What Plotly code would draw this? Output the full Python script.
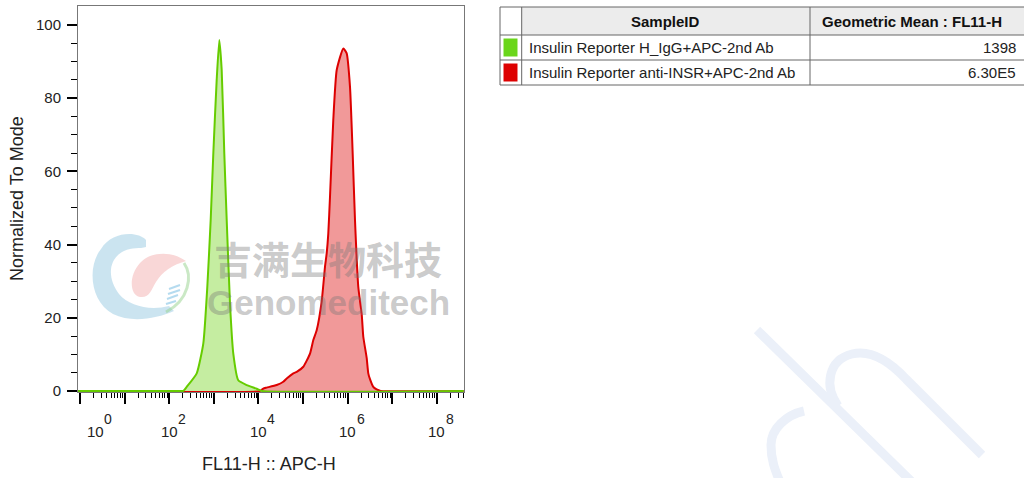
import plotly.graph_objects as go

# ---------------- data ----------------
green_x = [0.9, 180, 207, 247, 414, 582, 715, 851, 975, 1161, 1328, 1503, 1719,
           1946, 2307, 2737, 3541, 5466, 9162, 12000, 4.0e8]
green_y = [0, 0, 0, 1.1, 4.8, 13, 28.4, 46.7, 64.9, 85, 95.9, 87.7, 64.9,
           46.7, 23.9, 10.2, 2.9, 1.6, 0.6, 0, 0]

red_x = [0.9, 11000, 12880, 15350, 25700, 36140, 43130, 60670, 72270, 101600,
         143600, 170300, 202800, 262500, 311300, 339600, 369100, 402800, 477600,
         570000, 801500, 950800, 1132000, 1300000, 1465000, 1738000, 2071000,
         2249000, 2679000, 2911000, 3178000, 3767000, 4487000, 5500000, 4.0e8]
red_y = [0, 0, 0.65, 0.9, 1.6, 2.5, 3.4, 4.8, 5.2, 6.6,
         10.2, 13.9, 16.6, 24.5, 33.9, 37.6, 43, 53, 74,
         87.7, 93.6, 92.3, 83.1, 64.9, 46.7, 28.4, 21,
         14.8, 9, 4.8, 3.2, 1.1, 0.4, 0, 0]

sample_ids = ["Insulin Reporter H_IgG+APC-2nd Ab", "Insulin Reporter anti-INSR+APC-2nd Ab"]
geo_means = ["1398", "6.30E5"]
header = ["SampleID", "Geometric Mean : FL11-H"]
line_colors = ["#66cc00", "#dd0000"]
fill_colors = ["rgba(110,210,20,0.40)", "rgba(221,0,0,0.40)"]
swatch_colors = ["#6ad61a", "#dd0000"]

y_ticks = [0, 20, 40, 60, 80, 100]
x_label_exps = [0, 2, 4, 6, 8]

x_title = "FL11-H :: APC-H"
y_title = "Normalized To Mode"
wm_cn = "吉满生物科技"
wm_en = "Genomeditech"

# ---------------- geometry helpers ----------------
W, H = 1024, 478
L, R, T, B = 78, 464, 6, 392


def px(x):
    return (x - L) / (R - L)


def py(y):
    return (B - y) / (B - T)


def path(cmds):
    out = []
    for c in cmds:
        op, pts = c[0], c[1:]
        s = op
        for i in range(0, len(pts), 2):
            s += " %.5f,%.5f" % (px(pts[i]), py(pts[i + 1]))
        out.append(s)
    return " ".join(out)


FONT = "Liberation Sans, Arial, sans-serif"

fig = go.Figure()
fig.add_trace(go.Scatter(x=red_x, y=red_y, mode="lines", fill="tozeroy",
                         line=dict(color=line_colors[1], width=2, shape="spline", smoothing=0.5),
                         fillcolor=fill_colors[1], name=sample_ids[1],
                         showlegend=False, hoverinfo="skip"))
fig.add_trace(go.Scatter(x=green_x, y=green_y, mode="lines", fill="tozeroy",
                         line=dict(color=line_colors[0], width=2, shape="spline", smoothing=0.5),
                         fillcolor=fill_colors[0], name=sample_ids[0],
                         showlegend=False, hoverinfo="skip"))

shapes = []
annotations = []

# ---- logo watermark (left) ----
shapes.append(dict(type="path", xref="paper", yref="paper", layer="below",
                   path=path([("M", 146, 240), ("C", 138, 231, 112, 231, 101, 249),
                              ("C", 87, 266, 90, 302, 113, 314),
                              ("C", 131, 323, 156, 319, 174, 311),
                              ("L", 169, 306),
                              ("C", 150, 311, 129, 306, 119, 294),
                              ("C", 107, 278, 108, 259, 124, 251),
                              ("C", 132, 247, 140, 249, 146, 247)]) + " Z",
                   fillcolor="rgba(140,195,222,0.45)", line=dict(width=0)))
shapes.append(dict(type="path", xref="paper", yref="paper", layer="below",
                   path=path([("M", 186, 261), ("C", 172, 251, 151, 251, 140, 263),
                              ("C", 128, 276, 130, 296, 140, 297),
                              ("C", 150, 298, 151, 290, 156, 282),
                              ("C", 162, 272, 172, 265, 186, 261)]) + " Z",
                   fillcolor="rgba(240,150,150,0.38)", line=dict(width=0)))
shapes.append(dict(type="path", xref="paper", yref="paper", layer="below",
                   path=path([("M", 184, 263), ("C", 193, 276, 189, 300, 166, 312)]),
                   line=dict(color="rgba(150,210,140,0.5)", width=3)))
for (a, b, c, d) in [(169, 289, 180, 285), (168, 294, 180, 290), (167, 299, 178, 295), (166, 304, 176, 301)]:
    shapes.append(dict(type="line", xref="paper", yref="paper", layer="below",
                       x0=px(a), y0=py(b), x1=px(c), y1=py(d),
                       line=dict(color="rgba(120,190,225,0.55)", width=2)))

# ---- large pale stroke watermark (bottom right) ----
pale = "#ebf0f9"
shapes.append(dict(type="path", xref="paper", yref="paper",
                   path=path([("M", 757, 330), ("L", 912, 482)]),
                   line=dict(color=pale, width=9)))
shapes.append(dict(type="path", xref="paper", yref="paper",
                   path=path([("M", 838, 406), ("C", 824, 386, 828, 360, 852, 354),
                              ("C", 872, 349, 892, 364, 906, 379), ("L", 982, 455)]),
                   line=dict(color=pale, width=9)))
shapes.append(dict(type="path", xref="paper", yref="paper",
                   path=path([("M", 804, 411), ("C", 786, 415, 771, 429, 771, 445),
                              ("C", 771, 460, 775, 470, 780, 482)]),
                   line=dict(color=pale, width=9)))

# ---- watermark text ----
annotations.append(dict(text="<b>%s</b>" % wm_cn, xref="paper", yref="paper",
                        x=px(328), y=py(257), xanchor="center", yanchor="middle",
                        showarrow=False,
                        font=dict(family="Noto Sans CJK SC", size=38, color="rgba(120,120,120,0.40)")))
annotations.append(dict(text="<b>%s</b>" % wm_en, xref="paper", yref="paper",
                        x=px(328), y=py(302), xanchor="center", yanchor="middle",
                        showarrow=False,
                        font=dict(family=FONT, size=35, color="rgba(120,120,120,0.40)")))

# ---- x tick labels (10^n) ----
for e in x_label_exps:
    shift = 15 if e == 0 else 0
    annotations.append(dict(text="10", xref="x", yref="paper", x=e, y=py(432),
                            xshift=shift, xanchor="center", yanchor="middle",
                            showarrow=False, font=dict(family=FONT, size=15, color="#222")))
    annotations.append(dict(text=str(e), xref="x", yref="paper", x=e, y=py(419),
                            xshift=shift + 13, xanchor="center", yanchor="middle",
                            showarrow=False, font=dict(family=FONT, size=14, color="#222")))

# ---- axis titles ----
annotations.append(dict(text=x_title, xref="paper", yref="paper", x=px(269), y=py(464),
                        xanchor="center", yanchor="middle", showarrow=False,
                        font=dict(family=FONT, size=18, color="#222")))
annotations.append(dict(text=y_title, xref="paper", yref="paper", x=px(17), y=py(199),
                        xanchor="center", yanchor="middle", textangle=-90, showarrow=False,
                        font=dict(family=FONT, size=18, color="#222")))

# ---- table ----
tx = [500, 521.7, 810, 1024]
ty = [7, 35, 60, 85]
tcol = "#666"
shapes.append(dict(type="rect", xref="paper", yref="paper", x0=px(tx[1]), x1=px(tx[3]),
                   y0=py(ty[0]), y1=py(ty[1]), fillcolor="#ececec", line=dict(width=0)))
for yy in ty:
    shapes.append(dict(type="line", xref="paper", yref="paper", x0=px(tx[0]), x1=px(tx[3]),
                       y0=py(yy), y1=py(yy), line=dict(color=tcol, width=1)))
for xx in tx[:3]:
    shapes.append(dict(type="line", xref="paper", yref="paper", x0=px(xx), x1=px(xx),
                       y0=py(ty[0]), y1=py(ty[3]), line=dict(color=tcol, width=1)))
annotations.append(dict(text="<b>%s</b>" % header[0], xref="paper", yref="paper",
                        x=px((tx[1] + tx[2]) / 2), y=py((ty[0] + ty[1]) / 2),
                        xanchor="center", yanchor="middle", showarrow=False,
                        font=dict(family=FONT, size=15, color="#111")))
annotations.append(dict(text="<b>%s</b>" % header[1], xref="paper", yref="paper",
                        x=px(911.5), y=py((ty[0] + ty[1]) / 2),
                        xanchor="center", yanchor="middle", showarrow=False,
                        font=dict(family=FONT, size=15, color="#111")))
for i in range(2):
    y0, y1 = ty[i + 1], ty[i + 2]
    shapes.append(dict(type="rect", xref="paper", yref="paper", x0=px(503.5), x1=px(517.5),
                       y0=py(y0 + 3.5), y1=py(y1 - 3.5), fillcolor=swatch_colors[i],
                       line=dict(width=0)))
    annotations.append(dict(text=sample_ids[i], xref="paper", yref="paper",
                            x=px(526.5), y=py((y0 + y1) / 2), xanchor="left", yanchor="middle",
                            showarrow=False, font=dict(family=FONT, size=15, color="#222")))
    annotations.append(dict(text=geo_means[i], xref="paper", yref="paper",
                            x=px(1017.5), y=py((y0 + y1) / 2), xanchor="right", yanchor="middle",
                            showarrow=False, font=dict(family=FONT, size=15, color="#222")))

x_major = [10 ** k for k in range(9)]
x_minor = [m * 10 ** k for k in range(9) for m in range(2, 10)]
y_minor = [v for v in range(5, 105, 5) if v % 20 != 0]

fig.update_layout(
    width=W, height=H,
    margin=dict(l=L, r=W - R, t=T, b=H - B, pad=0),
    paper_bgcolor="white", plot_bgcolor="white",
    shapes=shapes, annotations=annotations,
    xaxis=dict(type="log", range=[-0.045, 8.61], tickvals=x_major, ticks="outside",
               ticklen=11, tickwidth=2, tickcolor="black", showticklabels=False,
               showline=True, linecolor="#777", linewidth=1, mirror=True,
               showgrid=False, zeroline=False,
               minor=dict(tickvals=x_minor, ticks="outside", ticklen=5, tickwidth=1,
                          tickcolor="black", showgrid=False)),
    yaxis=dict(range=[-0.3, 105.2], tickvals=y_ticks, ticks="outside", ticklen=10,
               tickwidth=2, tickcolor="black", ticklabelstandoff=3,
               tickfont=dict(family=FONT, size=15, color="#222"),
               showline=True, linecolor="#777", linewidth=1, mirror=True,
               showgrid=False, zeroline=False,
               minor=dict(tickvals=y_minor, ticks="outside", ticklen=6, tickwidth=1,
                          tickcolor="black", showgrid=False)),
)

fig.write_html("out.html", config={"displayModeBar": False},
               post_script="document.body.style.margin='0';document.body.style.padding='0';")
